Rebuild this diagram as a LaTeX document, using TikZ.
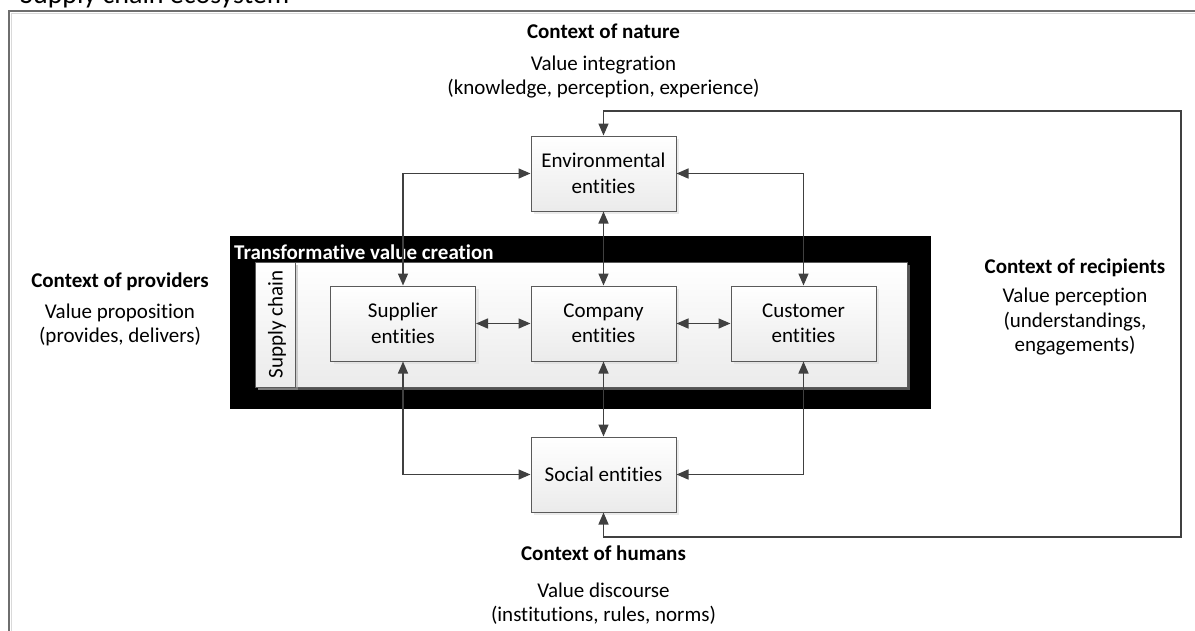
\documentclass[tikz,border=0pt]{standalone}
\usepackage{fontspec}
\setmainfont{Carlito}[Ligatures=NoCommon]
\usetikzlibrary{arrows.meta,shadows}
\definecolor{ln}{HTML}{404040}
\definecolor{bx}{HTML}{5A5A5A}
\definecolor{frame}{HTML}{6E6E6E}
\begin{document}
\begin{tikzpicture}[x=1pt,y=-1pt,
  font=\fontsize{21}{25.5}\selectfont,
  entity/.style={draw=bx, line width=1pt, top color=white, bottom color=black!8,
    drop shadow={shadow xshift=3pt,shadow yshift=-3pt,fill=black!15},
    minimum width=145pt, minimum height=75pt, align=center, inner sep=2pt},
  panelbox/.style={draw=bx, line width=1pt, top color=white, bottom color=black!8,
    drop shadow={shadow xshift=3pt,shadow yshift=-3pt,fill=black!35}, inner sep=0pt},
  arr/.style={draw=ln, line width=1.4pt, {Triangle[length=12pt,width=10pt]}-{Triangle[length=12pt,width=10pt]}},
  ctxhead/.style={font=\fontsize{21}{25.5}\selectfont\bfseries, align=center},
  ctxtext/.style={align=center, font=\fontsize{21}{24.5}\selectfont}
]
\useasboundingbox (0,0) rectangle (1195,630);
\fill[white] (0,0) rectangle (1195,630);
% outer frame
\draw[black!15, line width=1.5pt] (11.5,640) -- (11.5,13.5) -- (1205,13.5);
\draw[frame, line width=1.5pt] (9,640) -- (9,11) -- (1205,11);
\node[anchor=base west, font=\fontsize{28}{30}\selectfont, inner sep=0pt] (title) at (20,3.5) {Supply chain ecosystem};

% transformative value creation block
\node[fill=black, minimum width=701pt, minimum height=173pt, inner sep=0pt] (tvc) at (580.5,322.5) {};
\node[anchor=west, text=white, font=\fontsize{21}{25}\selectfont\bfseries, inner sep=0pt] (tvct) at (234,252) {Transformative value creation};
\node[panelbox, minimum width=652pt, minimum height=125pt] (panel) at (581,324.5) {};
\node[panelbox, minimum width=40pt, minimum height=125pt] (strip) at (275,324.5) {};
\node[rotate=90, inner sep=0pt] (stript) at (277,324.5) {Supply chain};

% entities
\node[entity] (env) at (603.5,173.5) {Environmental\\entities};
\node[entity] (sup) at (403,323.5) {Supplier\\entities};
\node[entity] (com) at (603.5,323.5) {Company\\entities};
\node[entity] (cus) at (803.5,323.5) {Customer\\entities};
\node[entity] (soc) at (603.5,474.5) {Social entities};

% connectors
\draw[arr] (sup.east) -- (com.west);
\draw[arr] (com.east) -- (cus.west);
\draw[arr] (env.south) -- (com.north);
\draw[arr] (com.south) -- (soc.north);
\draw[arr] (sup.north) |- (env.west);
\draw[arr] (cus.north) |- (env.east);
\draw[arr] (sup.south) |- (soc.west);
\draw[arr] (cus.south) |- (soc.east);
\coordinate (lt) at (1181,111);
\coordinate (lb) at (1181,537);
\draw[arr] (env.north) -- (env.north |- lt) -- (lt) -- (lb) -- (soc.south |- lb) -- (soc.south);

% context texts
\node[ctxhead] (cnh) at (603.5,31) {Context of nature};
\node[ctxtext] (cnt) at (603.5,77) {Value integration\\(knowledge, perception, experience)};
\node[ctxhead] (cph) at (120,282) {Context of providers};
\node[ctxtext] (cpt) at (120,325) {Value proposition\\(provides, delivers)};
\node[ctxhead] (crh) at (1075,268) {Context of recipients};
\node[ctxtext] (crt) at (1075,322) {Value perception\\(understandings,\\engagements)};
\node[ctxhead] (chh) at (603.5,553) {Context of humans};
\node[ctxtext] (cht) at (603.5,603.5) {Value discourse\\(institutions, rules, norms)};
\end{tikzpicture}
\end{document}
